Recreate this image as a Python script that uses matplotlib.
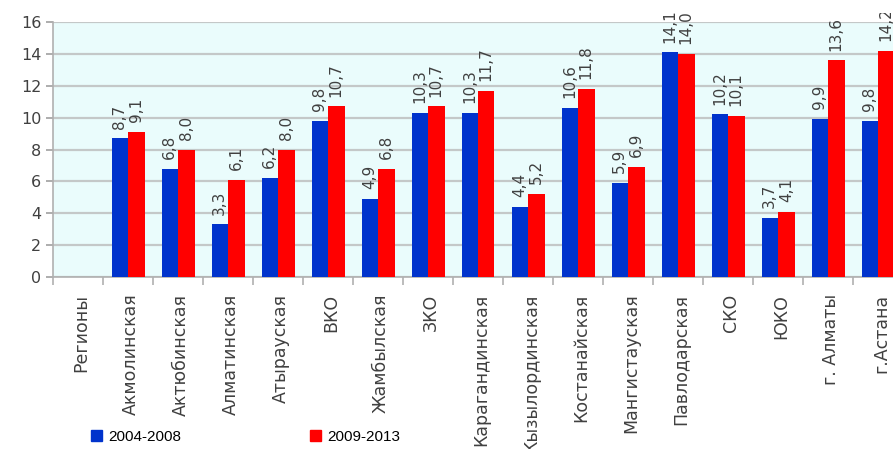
import numpy as np
import matplotlib
matplotlib.use("Agg")
import matplotlib.pyplot as plt
from matplotlib.patches import Patch
from matplotlib.transforms import Bbox, TransformedBbox, ScaledTranslation

# data (first category is an empty header column)
regions = ["Регионы", "Акмолинская", "Актюбинская", "Алматинская", "Атырауская",
           "ВКО", "Жамбылская", "ЗКО", "Карагандинская", "Кызылординская",
           "Костанайская", "Мангистауская", "Павлодарская", "СКО", "ЮКО",
           "г. Алматы", "г.Астана"]
v_2004_2008 = [np.nan, 8.7, 6.8, 3.3, 6.2, 9.8, 4.9, 10.3, 10.3, 4.4, 10.6, 5.9,
               14.1, 10.2, 3.7, 9.9, 9.8]
v_2009_2013 = [np.nan, 9.1, 8.0, 6.1, 8.0, 10.7, 6.8, 10.7, 11.7, 5.2, 11.8, 6.9,
               14.0, 10.1, 4.1, 13.6, 14.2]
series_names = ["2004-2008", "2009-2013"]

blue = "#0033cc"
red = "#ff0000"
text_col = "#404040"

W, H = 893, 449
fig = plt.figure(figsize=(W / 100, H / 100), dpi=100)
ax = fig.add_axes([53 / W, 1 - 277 / H, 1 - 53 / W, (277 - 22) / H])
ax.set_facecolor("#eafcfc")

x = np.arange(len(regions))
bw = 0.33
b1 = ax.bar(x - bw / 2, v_2004_2008, bw, color=blue, zorder=3)
b2 = ax.bar(x + bw / 2, v_2009_2013, bw, color=red, zorder=3)

# value labels, clipped near the top of the picture like the original
clip = TransformedBbox(Bbox([[0, 0], [1, (H - 13) / H]]), fig.transFigure)
for bars, vals in ((b1, v_2004_2008), (b2, v_2009_2013)):
    for rect, v in zip(bars, vals):
        if np.isnan(v):
            continue
        t = ax.annotate(f"{v:.1f}".replace(".", ","),
                        (rect.get_x() + rect.get_width() / 2, v),
                        xytext=(0, 7), textcoords="offset points",
                        rotation=90, ha="center", va="bottom",
                        fontsize=11, color=text_col, annotation_clip=False)
        t.set_clip_on(True)
        t.set_clip_box(clip)

ax.set_yticks(np.arange(0, 17, 2))
ax.tick_params(axis="y", labelsize=11.5, colors="#a0a0a0", labelcolor=text_col,
               length=5, width=1.2)

ax.set_xticks(x)
ax.set_xticklabels(regions, rotation=90, fontsize=12.5, color=text_col, va="top")
ax.tick_params(axis="x", which="major", length=0, pad=12)
shift = ScaledTranslation(3 / 100, 0, fig.dpi_scale_trans)
for lbl in ax.get_xticklabels():
    lbl.set_transform(lbl.get_transform() + shift)
ax.set_xticks(np.arange(-0.5, len(regions), 1), minor=True)
ax.tick_params(axis="x", which="minor", length=6, width=1.2, colors="#b0b0b0")

# limits after the ticks, so the last category stays cut at the right edge
ax.set_xlim(-0.5, len(regions) - 0.7)
ax.set_ylim(0, 16)

ax.grid(axis="y", color="#c4c8c8", linewidth=1.6, zorder=0)
ax.set_axisbelow(True)
for s in ("top", "right"):
    ax.spines[s].set_visible(False)
ax.spines["left"].set_color("#b0b0b0")
ax.spines["bottom"].set_color("#b0b0b0")
ax.spines["left"].set_linewidth(1.2)
ax.spines["bottom"].set_linewidth(1.2)

handles = [Patch(color=blue), Patch(color=red)]
fig.legend(handles, series_names, loc="center left",
           bbox_to_anchor=(77 / W, 1 - 437 / H), ncol=2, frameon=False,
           handlelength=0.75, handleheight=0.75, handletextpad=0.4,
           columnspacing=8.4, prop={"family": "Liberation Sans", "size": 11})

fig.savefig("out.png", dpi=100)
